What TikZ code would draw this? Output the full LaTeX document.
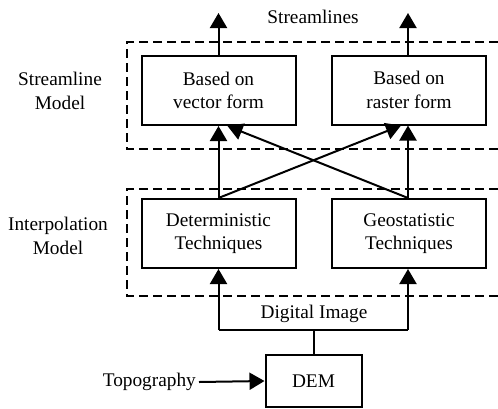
\documentclass[tikz,border=0pt]{standalone}
\usepackage{fontspec}
\setmainfont{Liberation Serif}
\usetikzlibrary{arrows.meta}
\begin{document}
\begin{tikzpicture}[x=1pt,y=-1pt,
  box/.style={draw,line width=2pt,minimum width=154pt,minimum height=69pt,align=center,inner sep=0pt},
  lbl/.style={align=center,inner sep=0pt},
  conn/.style={line width=2pt,-{Triangle[length=15pt,width=17pt]}},
  plain/.style={line width=2pt},
  dash box/.style={line width=1.5pt,dash pattern=on 9pt off 5pt},
  every node/.style={font=\rmfamily\fontsize{19.3}{23.5}\selectfont}]
\useasboundingbox (0,0) rectangle (498,408);
% dashed groups
\draw[dash box] (498,42) -- (127,42) -- (127,149) -- (498,149);
\draw[dash box] (498,189) -- (127,189) -- (127,296) -- (498,296);
% boxes
\node[box] (vec) at (218.5,90.5) {Based on\\vector form};
\node[box] (ras) at (409,90) {Based on\\raster form};
\node[box] (det) at (218.5,233.5) {Deterministic\\Techniques};
\node[box] (geo) at (409,233.5) {Geostatistic\\Techniques};
\node[box,minimum width=96pt,minimum height=52pt] (dem) at (313.5,381) {DEM};
% labels
\node[lbl] (sl) at (313,17) {Streamlines};
\node[lbl] (sm) at (60,91) {Streamline\\Model};
\node[lbl] (im) at (58,236) {Interpolation\\Model};
\node[lbl] (di) at (314,314) {Digital Image};
\node[lbl,anchor=east] (topo) at (196,382) {Topography};
% coordinates
\coordinate (o1) at (218.5,13);
\coordinate (o2) at (408,13);
\coordinate (jn) at (313.5,330);
\coordinate (jl) at (218.5,330);
\coordinate (jr) at (408,330);
% connectors
\draw[conn] (vec.north) -- (o1);
\draw[conn] (ras.north -| o2) -- (o2);
\draw[conn] (det.north) -- (vec.south);
\draw[conn] (geo.north -| o2) -- (ras.south -| o2);
\draw[conn] (det.north) -- ([xshift=-8pt]ras.south);
\draw[conn] (geo.north -| o2) -- ([xshift=9pt]vec.south);
\draw[plain] (dem.north) -- (jn);
\draw[plain] (jl) -- (jr);
\draw[conn] (jl) -- (det.south);
\draw[conn] (jr) -- (geo.south -| jr);
\draw[conn] ([xshift=3pt]topo.east) -- (dem.west);
\end{tikzpicture}
\end{document}
